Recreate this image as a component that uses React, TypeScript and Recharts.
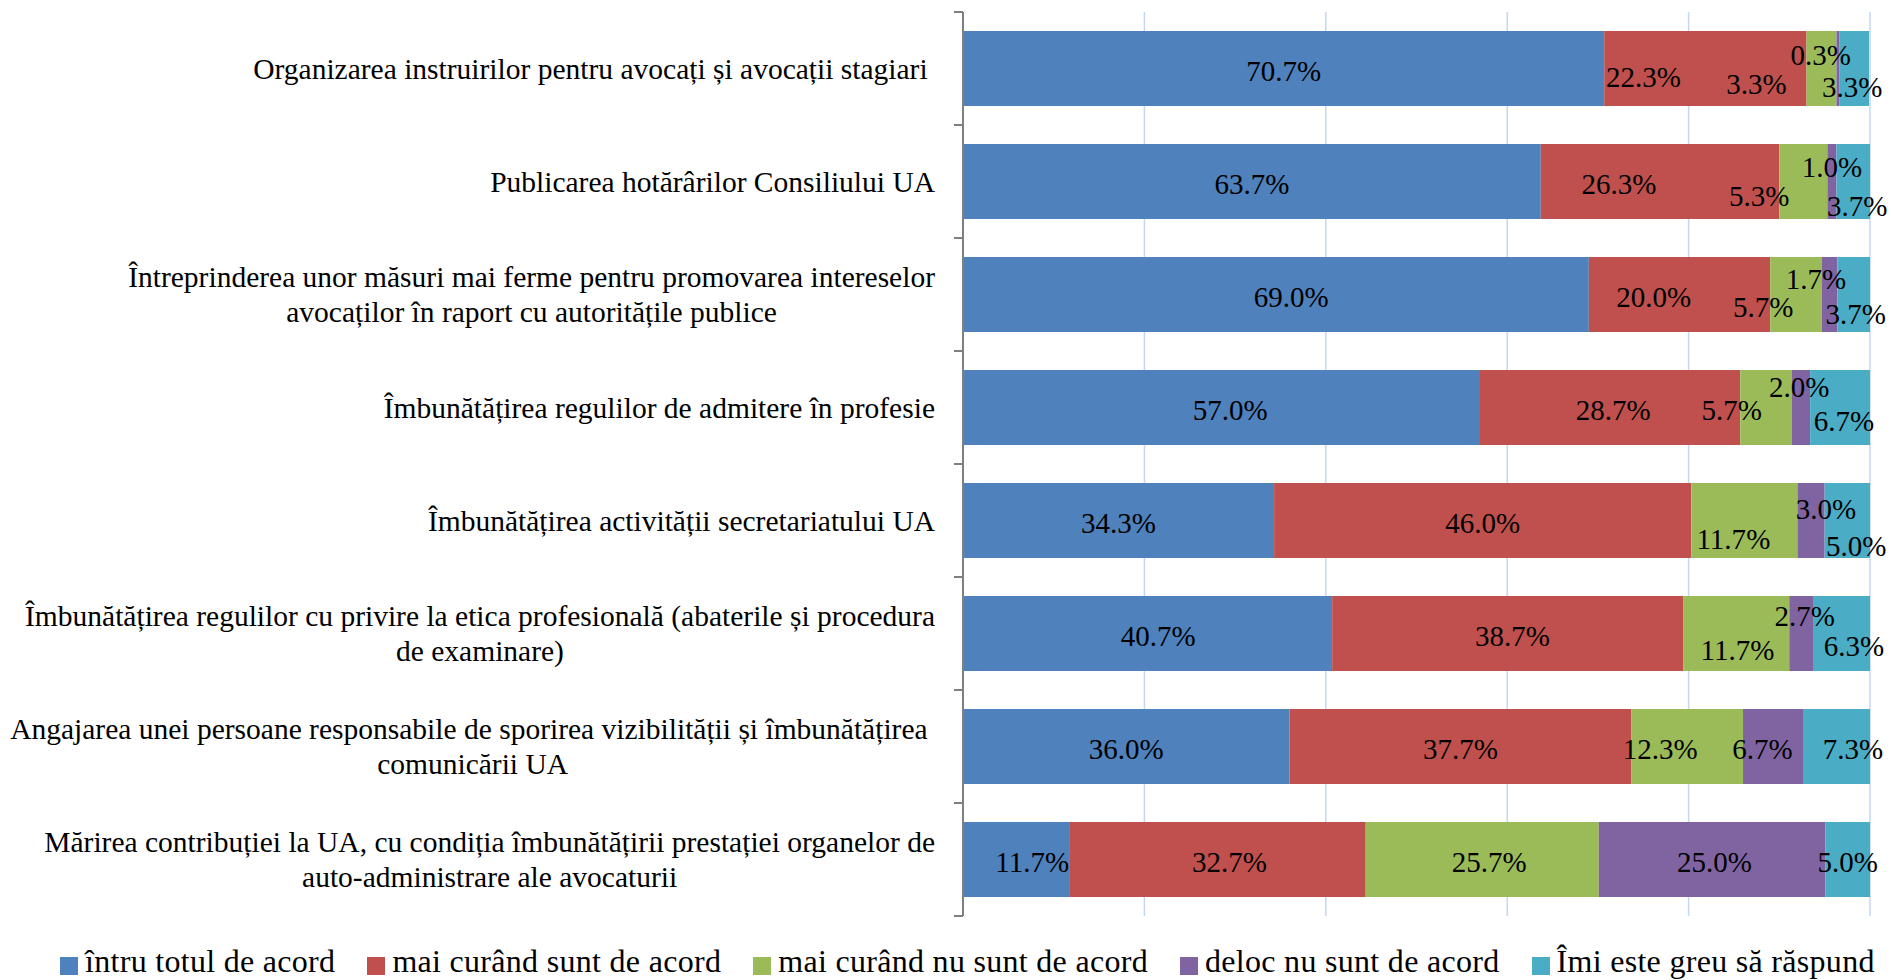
import { BarChart, Bar, XAxis, YAxis, CartesianGrid, Legend, LabelList } from "recharts"

// Survey: priorities for the bar association (UA), answers in %.

const CATEGORIES = [
  "Organizarea instruirilor pentru avocați și avocații stagiari ",
  "Publicarea hotărârilor Consiliului UA",
  "Întreprinderea unor măsuri mai ferme pentru promovarea intereselor\navocaților în raport cu autoritățile publice",
  "Îmbunătățirea regulilor de admitere în profesie",
  "Îmbunătățirea activității secretariatului UA",
  "Îmbunătățirea regulilor cu privire la etica profesională (abaterile și procedura\nde examinare)",
  "Angajarea unei persoane responsabile de sporirea vizibilității și îmbunătățirea \ncomunicării UA",
  "Mărirea contribuției la UA, cu condiția îmbunătățirii prestației organelor de\nauto-administrare ale avocaturii",
]

const TOTAL_ACORD = [70.7, 63.7, 69.0, 57.0, 34.3, 40.7, 36.0, 11.7]
const MAI_CURAND_ACORD = [22.3, 26.3, 20.0, 28.7, 46.0, 38.7, 37.7, 32.7]
const MAI_CURAND_NU = [3.3, 5.3, 5.7, 5.7, 11.7, 11.7, 12.3, 25.7]
const DELOC = [0.3, 1.0, 1.7, 2.0, 3.0, 2.7, 6.7, 25.0]
const GREU = [3.3, 3.7, 3.7, 6.7, 5.0, 6.3, 7.3, 5.0]

const X_TICKS = [0, 20, 40, 60, 80, 100]

const SERIES = [
  { key: "s0", name: "întru totul de acord", color: "#4F81BD", values: TOTAL_ACORD },
  { key: "s1", name: "mai curând sunt de acord", color: "#C0504D", values: MAI_CURAND_ACORD },
  { key: "s2", name: "mai curând nu sunt de acord", color: "#9BBB59", values: MAI_CURAND_NU },
  { key: "s3", name: "deloc nu sunt de acord", color: "#8064A2", values: DELOC },
  { key: "s4", name: "Îmi este greu să răspund", color: "#4BACC6", values: GREU },
]

// Data labels were nudged by hand in the original: [dx, dy] per series, per row.
const LABEL_SHIFT: [number, number][][] = [
  [[0, 0], [0, 0], [0, 0], [0, 0], [0, 0], [0, 0], [0, 0], [0, 0]],
  [[-62, 6], [-41, 0], [-30, 0], [0, 0], [0, 0], [0, 0], [0, 0], [0, 0]],
  [[-65, 13], [-44, 12], [-34, 10], [-35, 0], [-11, 16], [0, 14], [-27, 0], [0, 0]],
  [[-17, -16], [0, -17], [-14, -18], [-2, -23], [15, -14], [3, -20], [-11, 0], [0, 0]],
  [[-2, 16], [4, 22], [2, 17], [4, 11], [9, 23], [12, 10], [16, 0], [0, 0]],
]

const data = CATEGORIES.map((name, i) => {
  const row: Record<string, string | number> = { name }
  SERIES.forEach((s) => (row[s.key] = s.values[i]))
  return row
})

const FONT = '"Liberation Serif", "Times New Roman", serif'
const W = 1891
const H = 980
const PLOT_LEFT = 963
const PLOT_TOP = 12
const PLOT_BOTTOM = 916
const BAND = (PLOT_BOTTOM - PLOT_TOP) / CATEGORIES.length
const AXIS_FONT = 29.5
const LINE_H = 35

let ctx: CanvasRenderingContext2D | null = null
function measure(text: string) {
  if (!ctx) ctx = document.createElement("canvas").getContext("2d")
  if (!ctx) return text.length * AXIS_FONT * 0.45
  ctx.font = `${AXIS_FONT}px "Liberation Serif"`
  return ctx.measureText(text).width
}

function CategoryTick(props: any) {
  const { y, payload, index } = props
  const lines: string[] = String(payload.value).split("\n")
  const right = PLOT_LEFT - 28
  const blockW = Math.max(...lines.map(measure))
  const cx = right - blockW / 2
  return (
    <g>
      <line x1={PLOT_LEFT - 9} x2={PLOT_LEFT} y1={y - BAND / 2} y2={y - BAND / 2} stroke="#7F7F7F" strokeWidth={2} />
      {index === CATEGORIES.length - 1 && (
        <line x1={PLOT_LEFT - 9} x2={PLOT_LEFT} y1={y + BAND / 2} y2={y + BAND / 2} stroke="#7F7F7F" strokeWidth={2} />
      )}
      {lines.map((ln, i) => (
        <text
          key={i}
          x={cx}
          y={y + (i - (lines.length - 1) / 2) * LINE_H}
          textAnchor="middle"
          dominantBaseline="central"
          fontFamily={FONT}
          fontSize={AXIS_FONT}
          fill="#000"
          style={{ whiteSpace: "pre" }}
        >
          {ln}
        </text>
      ))}
    </g>
  )
}

// Drawn from the last segment so every label sits above all the bars.
function RowLabels(props: any) {
  const vb = props.viewBox && props.viewBox.width != null ? props.viewBox : props
  const { x, y, width, height } = vb
  const i = props.index
  const vals = SERIES.map((s) => s.values[i])
  const ppu = width / vals[vals.length - 1]
  let start = x - vals.slice(0, -1).reduce((a, b) => a + b, 0) * ppu
  const cy = y + height / 2
  return (
    <g>
      {vals.map((v, k) => {
        const mid = start + (v * ppu) / 2
        start += v * ppu
        const [dx, dy] = LABEL_SHIFT[k][i]
        return (
          <text key={k} x={mid + dx} y={cy + 12 + dy} textAnchor="middle" fontFamily={FONT} fontSize={29} fill="#000">
            {v.toFixed(1)}%
          </text>
        )
      })}
    </g>
  )
}

function LegendRow() {
  return (
    <div
      style={{
        height: 40,
        paddingLeft: 60,
        boxSizing: "border-box",
        display: "flex",
        alignItems: "flex-start",
        fontFamily: FONT,
        fontSize: 32,
        letterSpacing: 0.3,
        color: "#000",
        whiteSpace: "nowrap",
      }}
    >
      {SERIES.map((s) => (
        <div key={s.key} style={{ display: "flex", alignItems: "flex-start", marginRight: 32 }}>
          <span style={{ width: 18, height: 18, marginTop: 17, background: s.color, marginRight: 7, display: "inline-block" }} />
          <span style={{ lineHeight: "36px", marginTop: 3 }}>{s.name}</span>
        </div>
      ))}
    </div>
  )
}

export default function App() {
  return (
    <div style={{ position: "absolute", left: 0, top: 0, width: W, height: H, background: "#fff" }}>
      <BarChart
        width={W}
        height={H}
        data={data}
        layout="vertical"
        margin={{ top: PLOT_TOP, right: W - 1870, left: 0, bottom: 24 }}
      >
        <CartesianGrid horizontal={false} stroke="#C5D7F0" strokeWidth={1.5} />
        <XAxis type="number" domain={[0, 100]} ticks={X_TICKS} allowDataOverflow hide />
        <YAxis
          type="category"
          dataKey="name"
          width={PLOT_LEFT}
          interval={0}
          tickLine={false}
          axisLine={{ stroke: "#7F7F7F", strokeWidth: 2 }}
          tick={<CategoryTick />}
        />
        <Legend
          verticalAlign="bottom"
          content={<LegendRow />}
          wrapperStyle={{ left: 0, bottom: 0, width: W, height: 40 }}
        />
        {SERIES.map((s, k) => (
          <Bar key={s.key} dataKey={s.key} name={s.name} stackId="a" fill={s.color} barSize={75} isAnimationActive={false}>
            {k === SERIES.length - 1 && <LabelList dataKey={s.key} content={<RowLabels />} />}
          </Bar>
        ))}
      </BarChart>
    </div>
  )
}
